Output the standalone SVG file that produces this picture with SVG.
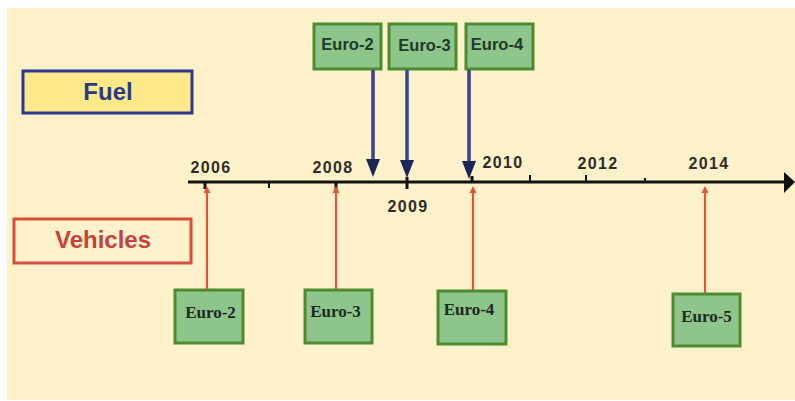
<svg xmlns="http://www.w3.org/2000/svg" width="795" height="401" viewBox="0 0 795 401">
<defs>
<style>
.bg{fill:#FFF2CB}
.gbox{fill:#8DC58B;stroke:#4E8A30;stroke-width:3}
.ft{font-family:"Liberation Sans",Arial,sans-serif;font-weight:bold;font-size:16.5px;fill:#1E3A28;text-anchor:middle}
.vt{font-family:"Liberation Serif","Times New Roman",serif;font-weight:bold;font-size:17px;fill:#1C2A22;text-anchor:middle}
.yr{font-family:"Liberation Sans",Arial,sans-serif;font-weight:bold;font-size:16px;fill:#2E2C26;letter-spacing:1.4px;text-anchor:middle}
.blue{stroke:#34449A;stroke-width:3.5;fill:none}
.red{stroke:#E0553F;stroke-width:2.2;fill:none}
.tick{stroke:#111;stroke-width:3}
</style>
</defs>
<rect x="0" y="0" width="795" height="401" fill="#ffffff"/>
<rect class="bg" x="7" y="8" width="788" height="392"/>

<g id="fuel-label">
<rect x="23" y="71" width="169" height="42" fill="#FFE88A" stroke="#2B3990" stroke-width="3"/>
<text x="108" y="100" font-family="Liberation Sans,Arial,sans-serif" font-weight="bold" font-size="24" fill="#2B3A80" text-anchor="middle">Fuel</text>
</g>
<g id="vehicles-label">
<rect x="14" y="219" width="177" height="44" fill="#FFF2CB" stroke="#D94B3C" stroke-width="3"/>
<text x="103" y="248" font-family="Liberation Sans,Arial,sans-serif" font-weight="bold" font-size="24" fill="#C8413A" text-anchor="middle">Vehicles</text>
</g>

<g id="timeline">
<line x1="188" y1="182" x2="786" y2="182" stroke="#111" stroke-width="3"/>
<polygon points="784,172 795,182 784,193" fill="#111"/>
<line class="tick" x1="205" y1="181" x2="205" y2="189"/>
<line x1="269" y1="182" x2="269" y2="188" stroke="#111" stroke-width="2"/>
<line class="tick" x1="336" y1="181" x2="336" y2="189"/>
<line class="tick" x1="407" y1="177" x2="407" y2="189"/>
<line class="tick" x1="472" y1="176" x2="472" y2="183"/>
<line x1="530" y1="175" x2="530" y2="182" stroke="#111" stroke-width="2"/>
<line x1="586" y1="175" x2="586" y2="182" stroke="#111" stroke-width="2"/>
<line x1="645" y1="178" x2="645" y2="182" stroke="#111" stroke-width="2"/>
<text class="yr" x="211" y="173">2006</text>
<text class="yr" x="333" y="173">2008</text>
<text class="yr" x="408" y="212">2009</text>
<text class="yr" x="503" y="168">2010</text>
<text class="yr" x="598" y="169">2012</text>
<text class="yr" x="709" y="169">2014</text>
</g>

<g id="fuel-euro2">
<rect class="gbox" x="314" y="24" width="67" height="45"/>
<text class="ft" x="347.5" y="50">Euro-2</text>
</g>
<g id="fuel-euro3">
<rect class="gbox" x="389" y="24" width="67" height="45"/>
<text class="ft" x="424.5" y="51">Euro-3</text>
</g>
<g id="fuel-euro4">
<rect class="gbox" x="466" y="24" width="67" height="45"/>
<text class="ft" x="497" y="50">Euro-4</text>
</g>

<g id="veh-euro2">
<rect class="gbox" x="175" y="290" width="68" height="53"/>
<text class="vt" x="210.5" y="318">Euro-2</text>
</g>
<g id="veh-euro3">
<rect class="gbox" x="305" y="290" width="67" height="53"/>
<text class="vt" x="335.5" y="317">Euro-3</text>
</g>
<g id="veh-euro4">
<rect class="gbox" x="438" y="291" width="68" height="53"/>
<text class="vt" x="469" y="315">Euro-4</text>
</g>
<g id="veh-euro5">
<rect class="gbox" x="673" y="294" width="67" height="52"/>
<text class="vt" x="706.5" y="322">Euro-5</text>
</g>

<g id="connectors">
<line class="blue" x1="373" y1="70" x2="373" y2="160"/>
<polygon points="366,159 380,159 373,177" fill="#1C2659"/>
<line class="blue" x1="407" y1="70" x2="407" y2="161"/>
<polygon points="400,160 414,160 407,178" fill="#1C2659"/>
<line class="blue" x1="469" y1="70" x2="469" y2="162"/>
<polygon points="462,161 476,161 469,179" fill="#1C2659"/>

<line class="red" x1="207" y1="289" x2="207" y2="192"/>
<polygon points="203.5,193 210.5,193 207,186" fill="#E0553F"/>
<line class="red" x1="336" y1="289" x2="336" y2="192"/>
<polygon points="332.5,193 339.5,193 336,186" fill="#E0553F"/>
<line class="red" x1="473" y1="290" x2="473" y2="192"/>
<polygon points="469.5,193 476.5,193 473,186" fill="#E0553F"/>
<line class="red" x1="705" y1="293" x2="705" y2="192"/>
<polygon points="701.5,193 708.5,193 705,186" fill="#E0553F"/>
</g>
</svg>
